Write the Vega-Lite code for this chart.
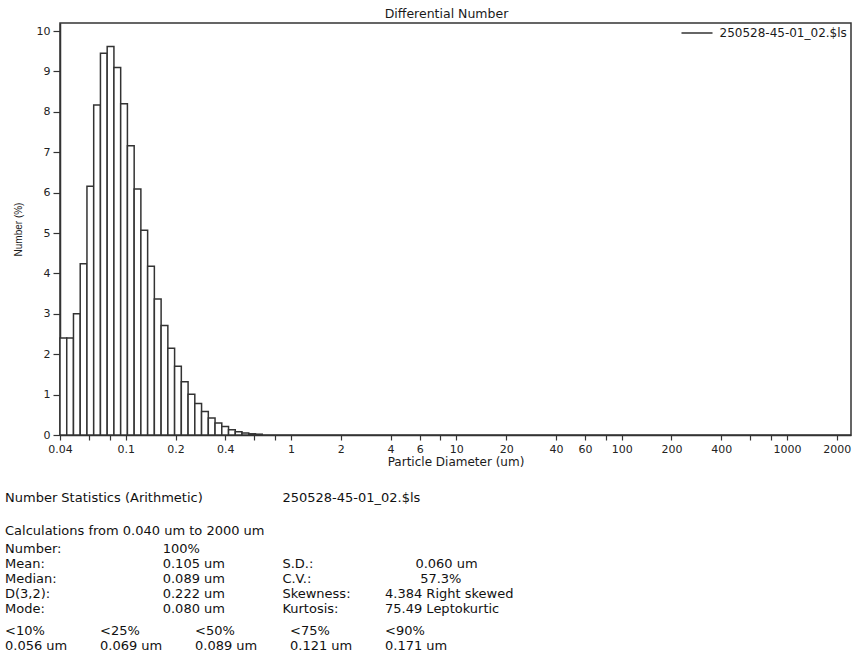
{
  "$schema": "https://vega.github.io/schema/vega-lite/v6.json",
  "width": 791,
  "height": 412,
  "padding": {"left": 5, "top": 7, "right": 5, "bottom": 2},
  "background": "white",
  "title": {"text": "Differential Number", "fontSize": 12.5, "font": "DejaVu Sans", "fontWeight": "normal", "color": "#1a1a1a", "offset": 3, "anchor": "middle", "dx": -9},
  "config": {"view": {"stroke": "#333333", "strokeWidth": 1.5}, "font": "DejaVu Sans"},
  "layer": [
    {
      "data": {"values": [
        {"lo": 0.04, "hi": 0.04394, "pct": 2.40},
        {"lo": 0.04394, "hi": 0.04826, "pct": 2.40},
        {"lo": 0.04826, "hi": 0.05301, "pct": 3.00},
        {"lo": 0.05301, "hi": 0.05823, "pct": 4.24},
        {"lo": 0.05823, "hi": 0.06396, "pct": 6.16},
        {"lo": 0.06396, "hi": 0.07026, "pct": 8.17},
        {"lo": 0.07026, "hi": 0.07718, "pct": 9.45},
        {"lo": 0.07718, "hi": 0.08478, "pct": 9.62},
        {"lo": 0.08478, "hi": 0.09313, "pct": 9.10},
        {"lo": 0.09313, "hi": 0.1023, "pct": 8.20},
        {"lo": 0.1023, "hi": 0.1124, "pct": 7.16},
        {"lo": 0.1124, "hi": 0.1234, "pct": 6.09},
        {"lo": 0.1234, "hi": 0.1356, "pct": 5.07},
        {"lo": 0.1356, "hi": 0.1489, "pct": 4.18},
        {"lo": 0.1489, "hi": 0.1636, "pct": 3.37},
        {"lo": 0.1636, "hi": 0.1797, "pct": 2.71},
        {"lo": 0.1797, "hi": 0.1974, "pct": 2.15},
        {"lo": 0.1974, "hi": 0.2168, "pct": 1.70},
        {"lo": 0.2168, "hi": 0.2382, "pct": 1.32},
        {"lo": 0.2382, "hi": 0.2616, "pct": 1.01},
        {"lo": 0.2616, "hi": 0.2874, "pct": 0.78},
        {"lo": 0.2874, "hi": 0.3157, "pct": 0.58},
        {"lo": 0.3157, "hi": 0.3468, "pct": 0.42},
        {"lo": 0.3468, "hi": 0.3809, "pct": 0.30},
        {"lo": 0.3809, "hi": 0.4184, "pct": 0.21},
        {"lo": 0.4184, "hi": 0.4596, "pct": 0.13},
        {"lo": 0.4596, "hi": 0.5048, "pct": 0.08},
        {"lo": 0.5048, "hi": 0.5545, "pct": 0.05},
        {"lo": 0.5545, "hi": 0.6092, "pct": 0.03},
        {"lo": 0.6092, "hi": 0.6691, "pct": 0.02}
      ]},
      "mark": {"type": "rect", "fill": "white", "strokeWidth": 1.5},
      "encoding": {
        "x": {
          "field": "lo", "type": "quantitative",
          "scale": {"type": "log", "domain": [0.04, 2440], "nice": false},
          "axis": {
            "title": "Particle Diameter (um)",
            "values": [0.04, 0.06, 0.08, 0.1, 0.2, 0.4, 0.6, 0.8, 1, 2, 4, 6, 8, 10, 20, 40, 60, 80, 100, 200, 400, 600, 800, 1000, 2000],
            "labelExpr": "indexof([0.04,0.1,0.2,0.4,1,2,4,6,10,20,40,60,100,200,400,1000,2000], datum.value) >= 0 ? format(datum.value, '~g') : ''",
            "grid": false, "tickSize": 5, "tickWidth": 1.2, "tickColor": "#333333",
            "domainColor": "#333333", "domainWidth": 1.5,
            "labelFontSize": 11, "labelFont": "DejaVu Sans", "labelColor": "#222222", "labelPadding": 3, "labelFlush": false, "labelOverlap": false,
            "titleFontSize": 12, "titleFont": "DejaVu Sans", "titleFontWeight": "normal", "titleColor": "#1a1a1a", "titlePadding": 2
          }
        },
        "x2": {"field": "hi"},
        "y": {
          "field": "pct", "type": "quantitative",
          "scale": {"domain": [0, 10.2], "nice": false},
          "axis": {
            "title": "Number (%)",
            "values": [0, 1, 2, 3, 4, 5, 6, 7, 8, 9, 10],
            "format": "d", "grid": false, "tickSize": 7, "tickWidth": 1.2, "tickColor": "#333333",
            "domainColor": "#333333", "domainWidth": 1.5,
            "labelFontSize": 11, "labelFont": "DejaVu Sans", "labelColor": "#222222", "labelPadding": 3,
            "titleFontSize": 10, "titleFont": "Liberation Sans", "titleFontWeight": "normal", "titleColor": "#1a1a1a", "titlePadding": 13
          }
        },
        "y2": {"datum": 0},
        "stroke": {
          "datum": "250528-45-01_02.$ls", "type": "nominal",
          "scale": {"range": ["#333333"]},
          "legend": {
            "title": null, "orient": "top-right", "offset": 4, "padding": 0,
            "symbolType": "M-3,0H3", "symbolSize": 107, "symbolStrokeWidth": 1.5,
            "labelFontSize": 12, "labelFont": "DejaVu Sans", "labelColor": "#1a1a1a", "labelOffset": 16.5
          }
        }
      }
    },
    {
      "data": {"values": [
        {"line": 0, "tab": 0, "text": "Number Statistics (Arithmetic)"},
        {"line": 0, "tab": 29.2, "text": "250528-45-01_02.$ls"},
        {"line": 4.5, "tab": 0, "text": "Calculations from 0.040 um to 2000 um"},
        {"line": 7, "tab": 0, "text": "Number:"},
        {"line": 7, "tab": 16.6, "text": "100%"},
        {"line": 9, "tab": 0, "text": "Mean:"},
        {"line": 9, "tab": 16.6, "text": "0.105 um"},
        {"line": 9, "tab": 29.2, "text": "S.D.:"},
        {"line": 9, "tab": 43.2, "text": "0.060 um"},
        {"line": 11, "tab": 0, "text": "Median:"},
        {"line": 11, "tab": 16.6, "text": "0.089 um"},
        {"line": 11, "tab": 29.2, "text": "C.V.:"},
        {"line": 11, "tab": 43.7, "text": "57.3%"},
        {"line": 13, "tab": 0, "text": "D(3,2):"},
        {"line": 13, "tab": 16.6, "text": "0.222 um"},
        {"line": 13, "tab": 29.2, "text": "Skewness:"},
        {"line": 13, "tab": 40, "text": "4.384 Right skewed"},
        {"line": 15, "tab": 0, "text": "Mode:"},
        {"line": 15, "tab": 16.6, "text": "0.080 um"},
        {"line": 15, "tab": 29.2, "text": "Kurtosis:"},
        {"line": 15, "tab": 40, "text": "75.49 Leptokurtic"},
        {"line": 18, "tab": 0, "text": "<10%"},
        {"line": 18, "tab": 10, "text": "<25%"},
        {"line": 18, "tab": 20, "text": "<50%"},
        {"line": 18, "tab": 30, "text": "<75%"},
        {"line": 18, "tab": 40, "text": "<90%"},
        {"line": 20, "tab": 0, "text": "0.056 um"},
        {"line": 20, "tab": 10, "text": "0.069 um"},
        {"line": 20, "tab": 20, "text": "0.089 um"},
        {"line": 20, "tab": 30, "text": "0.121 um"},
        {"line": 20, "tab": 40, "text": "0.171 um"}
      ]},
      "mark": {"type": "text", "align": "left", "baseline": "middle", "fontSize": 13, "font": "DejaVu Sans", "color": "#111111"},
      "encoding": {
        "x": {"field": "tab", "type": "quantitative", "scale": {"domain": [5.789, 89.05], "nice": false, "zero": false}, "axis": null},
        "y": {"field": "line", "type": "quantitative", "scale": {"domain": [-64.14, -8.46], "nice": false, "zero": false, "reverse": true}, "axis": null},
        "text": {"field": "text"}
      }
    }
  ],
  "resolve": {"scale": {"x": "independent", "y": "independent"}}
}
